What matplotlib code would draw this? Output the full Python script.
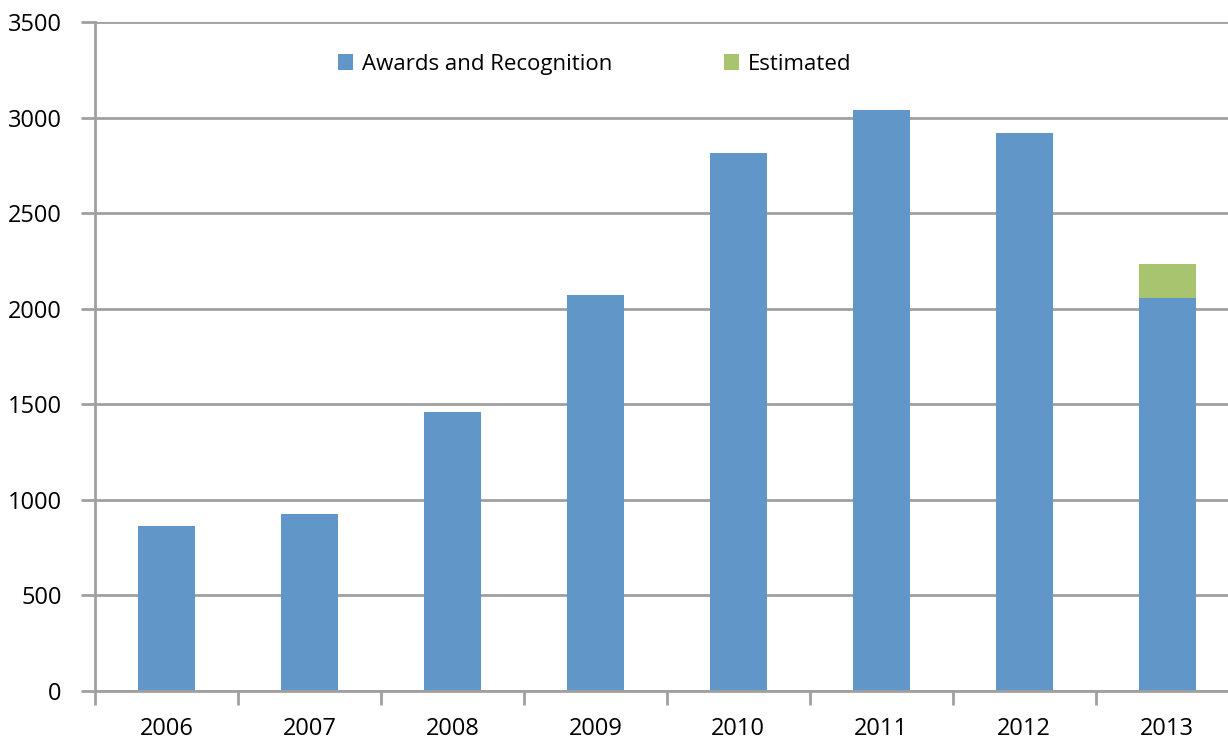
import matplotlib.pyplot as plt
import numpy as np

years = ["2006", "2007", "2008", "2009", "2010", "2011", "2012", "2013"]
awards = [865, 925, 1460, 2070, 2815, 3040, 2920, 2055]
estimated = [0, 0, 0, 0, 0, 0, 0, 180]

BLUE = "#6197c8"
GREEN = "#a9c46e"
GRID = "#a0a0a0"

plt.rcParams["font.family"] = ["Open Sans", "DejaVu Sans"]

fig = plt.figure(figsize=(12.28, 7.42), dpi=100)
ax = fig.add_axes([95 / 1228, 51 / 742, 1133 / 1228, 669 / 742])

x = np.arange(len(years))
ax.bar(x, awards, width=0.4, color=BLUE, label="Awards and Recognition", zorder=3)
ax.bar(x, estimated, width=0.4, bottom=awards, color=GREEN, label="Estimated", zorder=3)

ax.set_xlim(-0.5, 7.425)
ax.set_ylim(0, 3500)
ax.set_yticks(range(0, 3501, 500))
ax.yaxis.grid(True, color=GRID, linewidth=2, zorder=0)

# category boundary ticks below, labels centred under bars
ax.set_xticks(np.arange(-0.5, 7.5, 1))
ax.set_xticklabels([])
ax.set_xticks(x, minor=True)
ax.set_xticklabels(years, minor=True)
ax.tick_params(axis="x", which="major", length=10, width=2, color=GRID, direction="out")
ax.tick_params(axis="x", which="minor", length=0, pad=19, labelsize=17)
ax.tick_params(axis="y", length=10, width=2, color=GRID, pad=14, labelsize=17)

for side in ["top", "right"]:
    ax.spines[side].set_visible(False)
for side in ["left", "bottom"]:
    ax.spines[side].set_color(GRID)
    ax.spines[side].set_linewidth(2)
    ax.spines[side].set_zorder(4)

ax.legend(loc="center", bbox_to_anchor=(0.441, 0.937), ncol=2, frameon=False,
          fontsize=16, handlelength=0.7, handleheight=0.7, handletextpad=0.4,
          columnspacing=5.0)

fig.savefig("out.png", dpi=100)
